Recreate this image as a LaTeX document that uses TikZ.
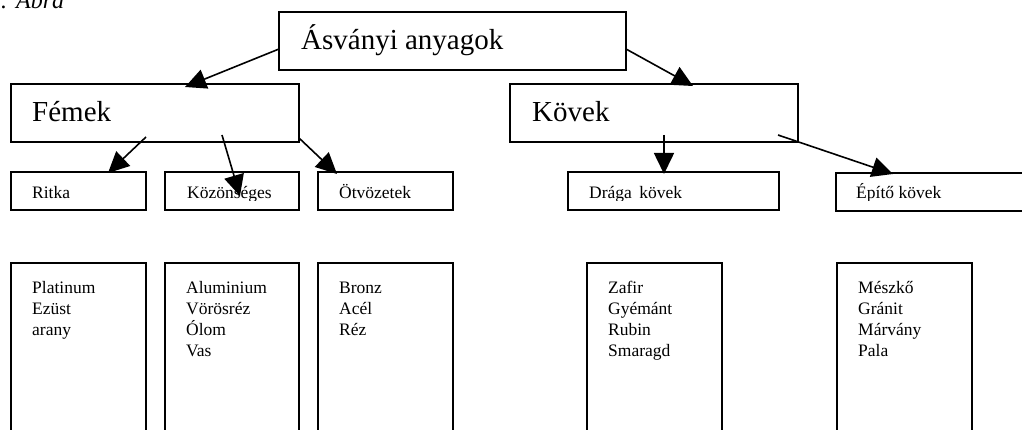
\documentclass[tikz,border=0pt]{standalone}
\usepackage{fontspec}
\setmainfont{Liberation Serif}
\usetikzlibrary{arrows.meta}
\begin{document}
\begin{tikzpicture}[x=1pt,y=-1pt,
  box/.style={draw,line width=1.5pt,inner sep=0pt,outer sep=0pt,anchor=north west},
  big/.style={font=\fontsize{29}{34}\selectfont,inner sep=0pt,anchor=base west},
  small/.style={font=\fontsize{17.5}{21}\selectfont,inner sep=0pt,anchor=base west},
  list/.style={font=\fontsize{17.5}{21}\selectfont,inner sep=0pt,anchor=north west,align=left},
  arr/.style={line width=1.6pt,-{Triangle[width=20pt,length=21pt]}}]
\useasboundingbox (0,0) rectangle (1022,430);

% caption
\node[inner sep=0pt,anchor=base west,font=\fontsize{24}{28}\itshape] (cap) at (1,9) {.\hspace{9pt}Ábra};

% top level
\node[box,minimum width=347pt,minimum height=58pt] (top) at (279,12) {};
\node[big] (ttop) at (301,50) {Ásványi anyagok};

% second level
\node[box,minimum width=288pt,minimum height=58pt] (femek) at (11,84) {};
\node[big] (tfemek) at (32,122) {Fémek};
\node[box,minimum width=288pt,minimum height=58pt] (kovek) at (510,84) {};
\node[big] (tkovek) at (532,122) {Kövek};

% third level
\node[box,minimum width=135pt,minimum height=38pt] (ritka) at (11,172) {};
\node[box,minimum width=134pt,minimum height=38pt] (kozon) at (165,172) {};
\node[box,minimum width=135pt,minimum height=38pt] (otvoz) at (318,172) {};
\node[box,minimum width=211pt,minimum height=38pt] (draga) at (568,172) {};
\node[box,minimum width=200pt,minimum height=38pt] (epito) at (836,173) {};
\begin{scope}
  \clip (0,170) rectangle (1022,201);
  \node[small] (tritka) at (32,199) {Ritka};
  \node[small] (tkozon) at (187,199) {Közönséges};
  \node[small] (totvoz) at (339,199) {Ötvözetek};
  \node[small] (tdraga) at (589,199) {Drága\hspace{3pt} kövek};
  \node[small] (tepito) at (856,199) {Építő kövek};
\end{scope}

% item lists
\node[box,minimum width=135pt,minimum height=180pt] (l1) at (11,263) {};
\node[box,minimum width=134pt,minimum height=180pt] (l2) at (165,263) {};
\node[box,minimum width=135pt,minimum height=180pt] (l3) at (318,263) {};
\node[box,minimum width=135pt,minimum height=180pt] (l4) at (587,263) {};
\node[box,minimum width=135pt,minimum height=180pt] (l5) at (837,263) {};
\node[list] (tl1) at (32,278.3) {\strut Platinum\\Ezüst\\arany};
\node[list] (tl2) at (186,278.3) {\strut Aluminium\\Vörösréz\\Ólom\\Vas};
\node[list] (tl3) at (339,278.3) {\strut Bronz\\Acél\\Réz};
\node[list] (tl4) at (608,278.3) {\strut Zafir\\Gyémánt\\Rubin\\Smaragd};
\node[list] (tl5) at (858,278.3) {\strut Mészkő\\Gránit\\Márvány\\Pala};

% connector end points
\coordinate (a1s) at (279,49);  \coordinate (a1e) at (185,87);
\coordinate (a2s) at (626,49);  \coordinate (a2e) at (693,86);
\coordinate (a3s) at (146,137); \coordinate (a3e) at (108,173);
\coordinate (a4s) at (222,135); \coordinate (a4e) at (240,196);
\coordinate (a5s) at (299,138); \coordinate (a5e) at (337,174);
\coordinate (a6s) at (664,135); \coordinate (a6e) at (664,174);
\coordinate (a7s) at (778,135); \coordinate (a7e) at (893,174);

\draw[arr] (a1s) -- (a1e);
\draw[arr] (a2s) -- (a2e);
\draw[arr] (a3s) -- (a3e);
\draw[arr] (a4s) -- (a4e);
\draw[arr] (a5s) -- (a5e);
\draw[arr] (a6s) -- (a6e);
\draw[arr] (a7s) -- (a7e);
\end{tikzpicture}
\end{document}
